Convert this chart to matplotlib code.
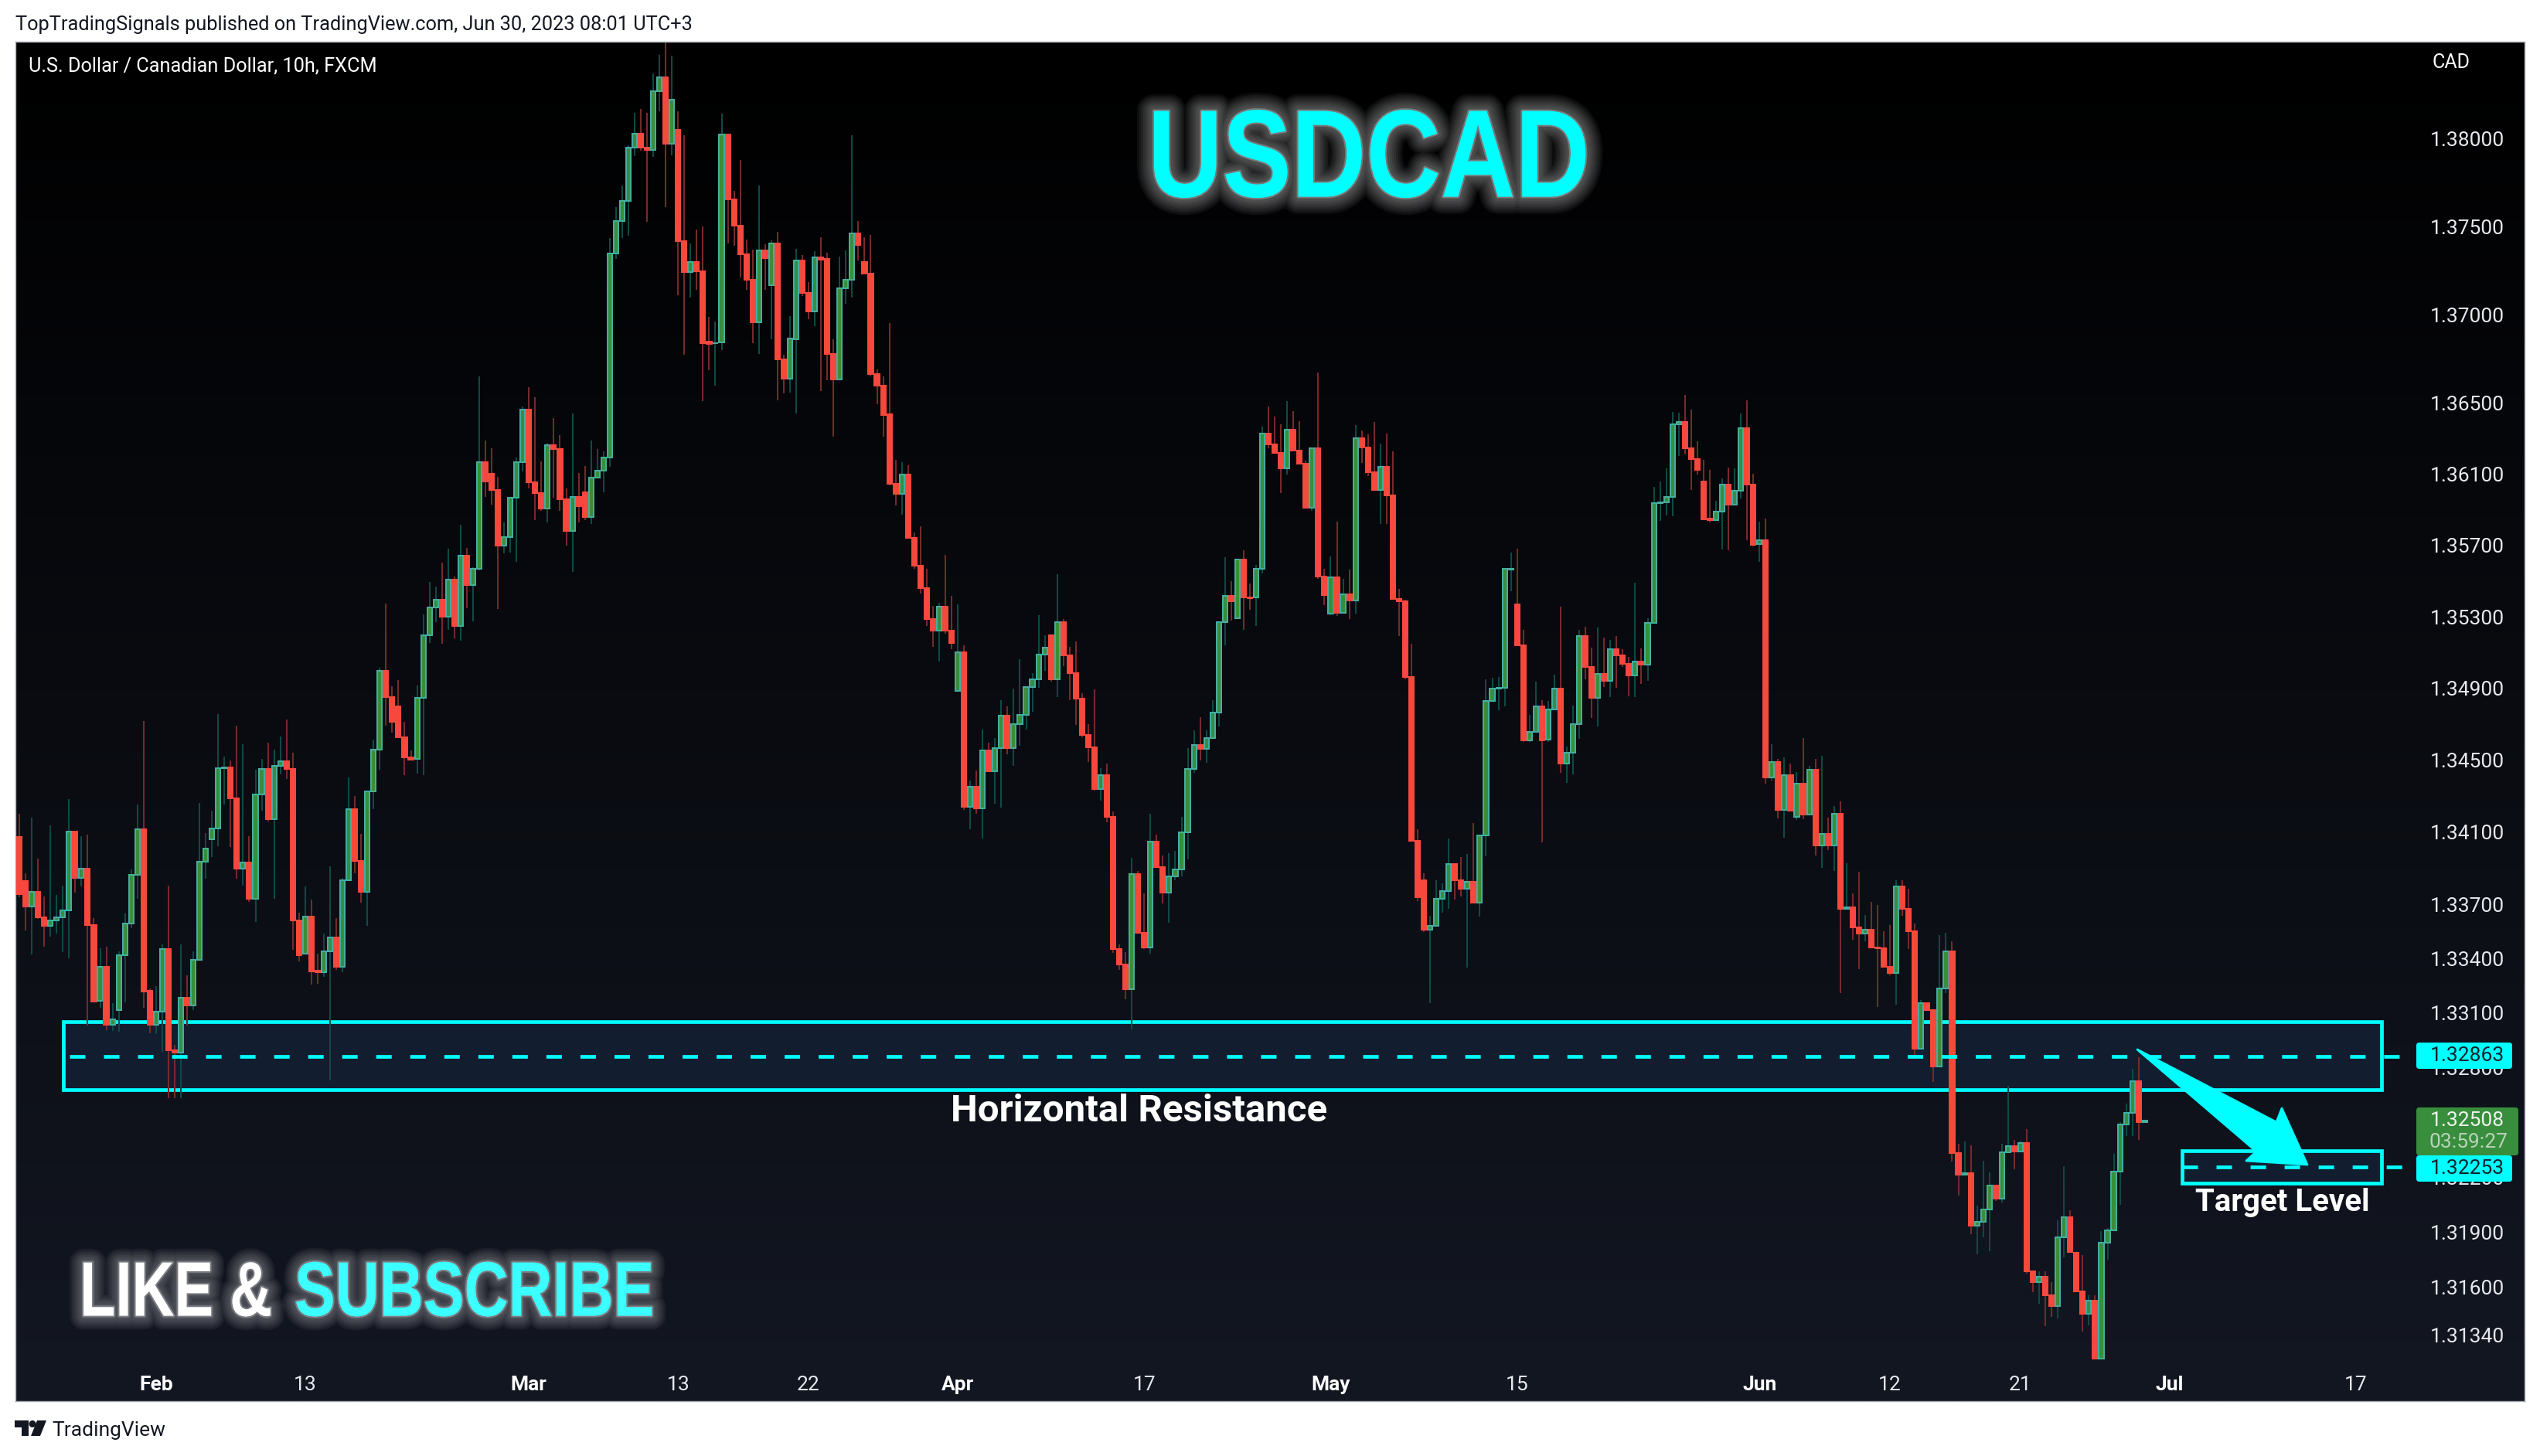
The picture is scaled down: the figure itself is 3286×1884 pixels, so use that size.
import numpy as np
import matplotlib
matplotlib.use('Agg')
import matplotlib.pyplot as plt
import matplotlib.patheffects as pe
from matplotlib.patches import Polygon, Rectangle, Circle, FancyBboxPatch
from matplotlib.ticker import NullLocator, NullFormatter
from matplotlib.transforms import Affine2D

W, H = 3286, 1884

# candles, in 1/1000 above 1.30000
opens = [
    40.75, 38.30, 36.86, 37.69, 36.27, 35.79, 36.10, 36.27, 36.66, 41.04,
    38.45, 38.98, 35.84, 31.66, 33.56, 30.36, 31.15, 34.19, 35.93, 38.63,
    41.16, 32.23, 30.36, 31.06, 34.51, 28.94, 28.81, 31.84, 31.43, 33.93,
    39.36, 40.59, 41.21, 44.55, 44.60, 42.88, 38.96, 39.32, 37.29, 43.09,
    44.51, 41.71, 44.67, 44.94, 44.51, 36.10, 34.26, 36.32, 33.33, 33.23,
    34.41, 35.16, 33.56, 38.33, 42.28, 39.41, 37.67, 43.27, 45.58, 49.97,
    48.53, 48.01, 46.26, 45.14, 45.05, 48.45, 51.98, 53.52, 53.96, 53.02,
    55.09, 52.50, 56.44, 54.78, 55.70, 61.66, 61.02, 60.13, 57.00, 57.48,
    59.66, 61.66, 64.66, 60.57, 59.96, 59.05, 62.66, 62.44, 59.61, 57.79,
    59.74, 60.00, 58.61, 60.83, 61.18, 61.96, 73.49, 75.33, 76.48, 79.52,
    80.31, 79.52, 79.38, 82.73, 83.53, 79.74, 80.53, 74.19, 72.43, 73.00,
    72.48, 68.47, 68.38, 68.43, 80.26, 76.56, 75.07, 73.44, 71.99, 69.58,
    73.66, 71.69, 74.06, 67.49, 66.40, 68.62, 73.09, 71.25, 70.20, 73.27,
    73.18, 67.79, 66.35, 71.51, 71.99, 74.63, 73.00, 72.34, 66.64, 65.98,
    64.38, 60.47, 59.90, 60.99, 57.42, 55.86, 54.60, 52.87, 52.22, 53.56,
    52.22, 48.86, 51.02, 42.41, 43.53, 42.33, 45.55, 44.38, 45.67, 47.48,
    45.67, 47.00, 47.52, 49.07, 49.50, 50.89, 51.97, 49.50, 52.70, 50.85,
    49.85, 48.43, 46.41, 45.72, 43.40, 44.17, 41.85, 34.53, 33.68, 32.32,
    38.67, 35.43, 34.62, 40.47, 39.06, 37.65, 38.54, 38.93, 40.99, 44.51,
    45.84, 45.63, 46.24, 47.66, 52.70, 54.17, 52.93, 56.20, 54.08, 54.08,
    55.69, 63.30, 62.69, 62.21, 61.34, 63.52, 62.34, 61.60, 59.12, 62.47,
    55.26, 53.17, 55.21, 53.22, 54.26, 53.91, 63.04, 62.51, 61.12, 60.12,
    61.42, 59.81, 54.00, 53.87, 49.63, 40.52, 38.33, 35.61, 35.81, 37.31,
    37.73, 39.23, 38.33, 37.86, 38.24, 37.09, 40.82, 48.30, 48.99, 49.03,
    55.65, 53.69, 51.41, 46.11, 46.58, 48.00, 46.15, 47.83, 48.99, 44.81,
    45.41, 47.00, 51.93, 50.20, 48.47, 49.81, 49.42, 51.19, 50.85, 50.37,
    49.72, 50.50, 50.33, 52.65, 59.38, 59.42, 59.73, 63.82, 63.95, 62.47,
    61.86, 60.60, 58.51, 58.42, 58.90, 60.42, 59.29, 60.07, 63.60, 60.42,
    57.07, 57.29, 44.04, 44.90, 42.24, 44.17, 41.85, 43.69, 41.98, 44.47,
    40.26, 40.90, 40.26, 42.02, 36.75, 36.84, 35.73, 35.39, 35.60, 34.62,
    34.58, 33.55, 33.21, 37.97, 36.75, 35.52, 29.04, 31.55, 31.17, 28.06,
    32.36, 34.40, 23.31, 22.13, 22.21, 19.34, 19.55, 20.23, 21.54, 20.82,
    23.35, 23.69, 23.39, 23.86, 16.84, 16.25, 16.55, 15.56, 14.97, 18.71,
    19.80, 17.87, 15.77, 14.55, 15.26, 12.10, 18.41, 19.08, 22.30, 24.87,
    25.51, 27.25, 25.00,
]
closes = [
    37.55, 36.86, 37.69, 36.26, 35.79, 36.10, 36.27, 36.66, 41.04, 38.45,
    38.98, 35.83, 31.65, 33.56, 30.36, 30.63, 34.19, 35.93, 38.63, 41.16,
    32.20, 30.36, 31.06, 34.51, 28.94, 28.81, 31.84, 31.43, 33.93, 39.36,
    40.09, 41.21, 44.55, 44.60, 42.87, 38.96, 39.32, 37.29, 43.09, 44.51,
    41.71, 44.67, 44.94, 44.50, 36.09, 34.20, 36.32, 33.30, 33.23, 34.41,
    35.16, 33.56, 38.33, 42.28, 39.39, 37.67, 43.27, 45.58, 49.97, 48.53,
    47.15, 46.26, 45.14, 45.04, 48.45, 51.98, 53.52, 53.96, 53.02, 55.09,
    52.50, 56.44, 54.78, 55.70, 61.66, 60.61, 60.13, 57.00, 57.48, 59.66,
    61.66, 64.66, 60.57, 59.96, 59.05, 62.66, 62.44, 59.61, 57.79, 59.74,
    59.18, 58.61, 60.83, 61.18, 61.96, 73.49, 75.33, 76.48, 79.52, 80.31,
    79.52, 79.38, 82.73, 83.53, 79.74, 82.25, 74.19, 72.43, 73.00, 72.48,
    68.38, 68.34, 68.40, 80.26, 76.56, 75.07, 73.44, 71.99, 69.58, 73.66,
    73.22, 74.06, 67.49, 66.40, 68.67, 73.09, 71.25, 70.20, 73.27, 73.14,
    67.79, 66.35, 71.51, 71.99, 74.63, 73.97, 72.34, 66.64, 65.98, 64.34,
    60.47, 59.90, 60.99, 57.42, 55.86, 54.60, 52.87, 52.22, 53.56, 52.22,
    51.53, 51.02, 42.41, 43.53, 42.33, 45.55, 44.38, 45.67, 47.48, 45.67,
    47.00, 47.52, 49.07, 49.50, 50.89, 51.28, 49.50, 52.70, 50.85, 49.85,
    48.43, 46.41, 45.72, 43.40, 44.17, 41.85, 34.53, 33.68, 32.32, 38.67,
    35.43, 34.62, 40.47, 39.06, 37.65, 38.54, 38.93, 40.99, 44.51, 45.84,
    45.63, 46.24, 47.66, 52.70, 54.17, 53.87, 56.20, 54.08, 54.04, 55.69,
    63.30, 62.69, 62.21, 61.34, 63.52, 62.34, 61.60, 59.12, 62.47, 55.26,
    54.21, 55.21, 53.22, 54.26, 53.91, 63.04, 62.51, 61.12, 60.12, 61.42,
    59.81, 54.00, 53.87, 49.63, 40.52, 37.39, 35.61, 35.81, 37.31, 37.73,
    39.23, 38.33, 37.86, 38.24, 37.09, 40.82, 48.30, 48.99, 49.03, 55.69,
    55.69, 51.41, 46.11, 46.58, 48.00, 46.11, 47.83, 48.99, 44.81, 45.41,
    47.00, 51.93, 50.20, 48.47, 49.81, 49.42, 51.19, 50.85, 50.37, 49.72,
    50.50, 50.33, 52.65, 59.38, 59.42, 59.73, 63.82, 63.95, 62.47, 61.86,
    61.25, 58.47, 58.42, 58.90, 60.42, 59.29, 60.07, 63.60, 60.42, 57.03,
    57.29, 44.04, 44.90, 42.24, 44.17, 42.19, 43.69, 41.98, 44.47, 40.26,
    40.90, 40.26, 42.02, 36.75, 36.84, 35.73, 35.39, 35.60, 34.62, 34.58,
    33.55, 33.21, 37.97, 36.75, 35.52, 29.04, 31.55, 31.17, 28.06, 32.36,
    34.40, 23.31, 22.13, 22.21, 19.34, 19.55, 20.23, 21.54, 20.82, 23.35,
    23.69, 23.39, 23.86, 16.84, 16.25, 16.55, 15.56, 14.97, 18.71, 19.80,
    17.91, 15.77, 14.55, 15.26, 12.10, 18.41, 19.08, 22.30, 24.87, 25.51,
    27.25, 25.00, 25.08,
]
highs = [
    42.00, 38.73, 41.82, 39.55, 37.45, 41.39, 37.53, 38.05, 42.85, 41.04,
    40.79, 40.84, 36.23, 34.55, 34.66, 31.55, 34.39, 36.49, 38.95, 42.55,
    47.18, 32.36, 32.47, 34.79, 38.05, 29.23, 34.79, 33.09, 34.40, 42.62,
    40.96, 42.17, 47.57, 45.21, 45.00, 46.93, 45.90, 40.79, 44.48, 45.08,
    45.98, 45.60, 46.33, 47.26, 45.43, 36.54, 38.00, 37.27, 34.26, 35.39,
    39.08, 36.25, 38.48, 44.05, 43.02, 40.88, 43.27, 46.15, 50.15, 53.73,
    49.13, 49.45, 47.15, 45.55, 49.16, 53.12, 54.93, 54.71, 56.02, 56.82,
    55.25, 58.16, 56.84, 55.76, 66.53, 62.90, 62.47, 60.86, 58.29, 59.66,
    61.93, 64.82, 65.91, 65.34, 61.72, 62.76, 64.17, 63.20, 60.21, 64.43,
    61.08, 61.47, 62.90, 62.43, 62.30, 74.36, 76.12, 77.36, 79.65, 81.50,
    81.72, 81.50, 83.75, 84.81, 85.56, 84.76, 81.59, 80.22, 74.06, 74.85,
    75.02, 69.89, 69.63, 81.45, 80.26, 77.05, 78.81, 74.28, 73.71, 77.36,
    74.01, 74.23, 74.72, 67.75, 69.93, 73.75, 73.40, 71.86, 73.62, 74.41,
    73.53, 68.62, 73.31, 73.66, 80.22, 75.33, 74.41, 74.54, 66.91, 66.52,
    69.54, 61.82, 61.69, 61.51, 57.73, 58.07, 55.69, 53.61, 53.78, 56.47,
    54.17, 53.69, 51.41, 43.87, 44.42, 46.71, 45.98, 46.24, 48.34, 48.00,
    48.99, 50.61, 49.07, 49.85, 53.09, 51.97, 51.97, 55.37, 52.87, 51.32,
    51.62, 48.73, 47.01, 48.95, 44.55, 44.81, 42.15, 34.79, 34.36, 39.57,
    38.84, 37.60, 42.02, 40.86, 39.70, 39.83, 39.96, 41.85, 45.67, 46.67,
    47.41, 46.67, 48.34, 52.70, 56.33, 55.00, 56.20, 56.73, 54.87, 55.90,
    63.69, 64.82, 64.25, 63.82, 65.13, 64.56, 63.99, 61.77, 62.47, 66.75,
    55.69, 56.38, 58.33, 55.13, 55.65, 63.78, 63.47, 63.26, 63.95, 62.73,
    63.30, 62.29, 54.56, 53.95, 51.49, 41.16, 38.71, 36.37, 38.33, 38.16,
    40.65, 39.23, 39.62, 39.79, 41.50, 40.82, 49.50, 49.59, 49.63, 55.69,
    56.60, 56.82, 52.27, 47.52, 49.37, 48.34, 48.30, 49.76, 53.56, 45.75,
    48.04, 52.27, 52.44, 51.28, 52.40, 51.84, 51.71, 51.93, 51.19, 50.76,
    54.91, 51.23, 52.91, 60.29, 60.60, 61.34, 64.52, 64.47, 65.47, 64.65,
    62.86, 61.82, 61.25, 59.51, 60.77, 61.38, 61.34, 64.43, 65.17, 61.03,
    58.33, 58.51, 45.89, 45.07, 45.16, 44.81, 44.34, 46.24, 44.68, 45.07,
    45.24, 41.80, 42.45, 42.71, 39.28, 37.60, 38.80, 36.41, 37.13, 36.96,
    35.52, 35.86, 38.33, 38.33, 37.86, 35.94, 31.72, 31.55, 31.17, 35.30,
    35.43, 34.96, 23.82, 23.95, 23.73, 20.44, 22.89, 22.25, 21.54, 23.82,
    27.00, 24.03, 23.99, 24.62, 16.84, 16.84, 16.84, 16.25, 19.63, 22.60,
    20.18, 17.87, 17.74, 15.56, 15.56, 19.04, 19.21, 23.27, 25.00, 26.02,
    27.93, 28.57, 25.08,
]
lows = [
    37.37, 35.57, 34.25, 36.19, 34.66, 35.23, 35.40, 34.37, 34.00, 37.66,
    37.97, 30.30, 31.60, 31.29, 30.06, 30.00, 29.96, 31.60, 35.69, 37.30,
    31.29, 29.88, 29.83, 28.87, 26.31, 26.31, 26.31, 30.30, 31.17, 33.93,
    38.40, 39.63, 40.23, 42.52, 40.16, 38.43, 38.02, 37.15, 36.04, 42.17,
    41.58, 37.29, 44.20, 43.94, 34.49, 33.83, 34.26, 32.55, 32.63, 32.99,
    27.30, 33.39, 33.23, 38.33, 38.73, 37.10, 35.79, 42.29, 44.47, 46.92,
    46.54, 46.26, 44.17, 45.01, 44.24, 44.17, 51.55, 52.68, 51.48, 52.27,
    51.81, 51.68, 53.48, 52.74, 55.61, 59.74, 59.27, 53.44, 56.57, 56.61,
    56.09, 61.17, 60.18, 58.44, 58.95, 58.27, 59.70, 58.95, 57.00, 55.53,
    58.31, 58.40, 58.22, 60.77, 60.00, 61.44, 73.18, 74.36, 74.50, 79.03,
    79.34, 75.28, 78.99, 81.59, 76.12, 79.07, 71.12, 67.75, 71.00, 71.43,
    65.13, 66.87, 66.00, 68.00, 74.06, 73.92, 72.13, 71.43, 68.38, 67.79,
    71.43, 68.62, 65.17, 65.57, 65.62, 64.43, 71.07, 69.76, 69.37, 65.69,
    66.31, 63.12, 66.35, 70.63, 70.98, 73.09, 72.34, 66.52, 64.95, 63.12,
    60.38, 59.25, 58.73, 57.42, 55.69, 54.30, 52.48, 51.32, 50.50, 52.05,
    51.19, 48.86, 42.24, 41.16, 42.02, 40.65, 44.38, 42.58, 42.37, 45.33,
    44.68, 45.80, 46.71, 47.70, 49.03, 49.98, 49.37, 48.52, 50.24, 48.34,
    46.97, 46.28, 44.90, 43.31, 42.75, 41.55, 34.31, 33.38, 31.77, 30.10,
    35.43, 34.53, 34.28, 39.06, 37.05, 35.98, 38.33, 38.54, 39.49, 44.30,
    44.98, 44.85, 46.24, 46.88, 51.41, 52.78, 52.87, 52.27, 53.39, 52.48,
    55.43, 62.47, 62.21, 59.94, 60.99, 62.34, 61.60, 59.12, 58.95, 55.13,
    53.65, 53.09, 53.04, 53.22, 52.87, 53.17, 61.64, 60.90, 60.12, 58.20,
    58.20, 54.00, 51.93, 49.50, 40.52, 37.18, 35.48, 31.55, 35.81, 36.54,
    36.75, 37.26, 37.43, 33.51, 37.05, 36.33, 39.66, 48.30, 47.79, 48.00,
    54.43, 51.41, 46.02, 46.02, 46.58, 40.43, 46.02, 47.83, 44.30, 43.74,
    44.21, 46.19, 49.50, 47.35, 46.88, 49.07, 48.52, 49.03, 50.20, 48.56,
    48.52, 49.24, 49.42, 52.65, 58.38, 58.68, 58.64, 62.03, 62.12, 60.12,
    60.99, 58.47, 58.29, 58.42, 56.77, 56.73, 59.29, 59.64, 57.29, 56.94,
    56.08, 43.69, 43.87, 41.76, 40.68, 42.15, 41.68, 41.72, 41.98, 39.70,
    39.02, 40.00, 38.84, 32.10, 36.75, 35.05, 33.42, 34.96, 34.58, 31.34,
    33.51, 33.08, 31.47, 36.37, 34.53, 28.61, 29.04, 31.17, 27.21, 28.06,
    32.10, 22.84, 21.00, 22.13, 18.87, 17.78, 18.71, 17.95, 20.69, 20.61,
    23.35, 22.42, 23.39, 16.72, 15.73, 15.10, 13.85, 14.37, 14.29, 17.61,
    17.91, 15.77, 13.58, 13.90, 12.10, 12.10, 17.49, 19.08, 20.48, 24.25,
    24.25, 24.03, 25.00,
]

price_ticks = [1.38, 1.375, 1.37, 1.365, 1.361, 1.357, 1.353, 1.349, 1.345, 1.341,
               1.337, 1.334, 1.331, 1.328, 1.325, 1.322, 1.319, 1.316, 1.3134]
date_pos = [22, 46, 82, 106, 127, 151, 181, 211, 241, 280, 301, 322, 346, 376]
date_labels = ['Feb', '13', 'Mar', '13', '22', 'Apr', '17', 'May', '15', 'Jun', '12', '21', 'Jul', '17']

resistance_zone = (1.32679, 1.33053)
resistance_level = 1.32863
target_zone = (1.32168, 1.32342)
target_level = 1.32253
last_price = 1.32508

CYAN = '#00ffff'
GREEN_FILL = '#388e3c'
GREEN_EDGE = '#45ad9f'
GREEN_WICK = '#0f4a45'
RED_FILL = '#f7483e'
RED_WICK = '#762a2b'
ZONE = '#131d30'
TXT = '#e6e8ee'

o = 1.3 + np.array(opens) / 1000
c = 1.3 + np.array(closes) / 1000
hi = 1.3 + np.array(highs) / 1000
lo = 1.3 + np.array(lows) / 1000
xs = np.arange(len(o))
up = c >= o

fig = plt.figure(figsize=(W / 100, H / 100), dpi=100, facecolor='white')
px = Affine2D().scale(1 / W, -1 / H).translate(0, 1) + fig.transFigure
rect = [20 / W, 1 - 1813 / H, (3266 - 20) / W, (1813 - 54) / H]

# background gradient
bg = fig.add_axes(rect, zorder=0)
grad = np.linspace(0, 1, 256)[:, None, None] * np.array([0x13, 0x17, 0x22]) / 255
bg.imshow(grad, aspect='auto', interpolation='bilinear')
bg.axis('off')

ax = fig.add_axes(rect, zorder=1)
ax.patch.set_visible(False)
ax.set_yscale('log')
ax.set_xlim(-0.62, 403.1)
ax.set_ylim(1.3098, 1.38557)
ax.set_axisbelow(True)
for s in ax.spines.values():
    s.set_color('#a3a6af')
    s.set_linewidth(1.0)

# zones, under the candles
for (low, high), x0 in ((resistance_zone, 7.09), (target_zone, 348.0)):
    ax.add_patch(Rectangle((x0, low), 380.1 - x0, high - low, facecolor=ZONE,
                           edgecolor=CYAN, linewidth=3.4, zorder=1))

ax.vlines(xs, lo, hi, colors=np.where(up, GREEN_WICK, RED_WICK), linewidth=1.45, zorder=2)
ax.bar(xs, np.abs(c - o), bottom=np.minimum(o, c), width=0.76,
       color=np.where(up, GREEN_FILL, RED_FILL),
       edgecolor=np.where(up, GREEN_EDGE, RED_FILL), linewidth=1.45, zorder=3)

# dashed levels, over the candles
DASH = (14.4 / 3.4, 17.3 / 3.4)
ax.plot([8.1, 384.5], [resistance_level] * 2, color=CYAN, lw=3.4, dashes=DASH, zorder=4)
ax.plot([348.0, 383.5], [target_level] * 2, color=CYAN, lw=3.4, dashes=DASH, zorder=4)

# axes labels sit inside the frame
ax.yaxis.tick_right()
ax.yaxis.set_minor_locator(NullLocator())
ax.yaxis.set_minor_formatter(NullFormatter())
ax.set_yticks(price_ticks, ['%.5f' % p for p in price_ticks])
ax.tick_params(axis='y', length=0, pad=-88, labelcolor=TXT, labelsize=19)
for t in ax.get_yticklabels():
    t.set_fontfamily('Roboto')
ax.set_xticks(date_pos, date_labels)
ax.tick_params(axis='x', length=0, pad=-24, labelcolor=TXT, labelsize=19)
for t in ax.get_xticklabels():
    t.set_fontfamily('Roboto')
    if t.get_text().isalpha():
        t.set_fontweight('bold')
        t.set_color('white')

# arrow tool drawing
ax.add_patch(Polygon([(2765, 1358), (2945, 1452), (2952, 1434), (2985, 1507),
                      (2906, 1502), (2919, 1490)], closed=True, facecolor=CYAN,
                     edgecolor=CYAN, linewidth=2, joinstyle='round', transform=px, zorder=5))

# price tags on the scale
for y0, y1, x1, col in ((1349, 1383, 3250, CYAN), (1433, 1495, 3258, GREEN_FILL), (1495, 1529, 3250, CYAN)):
    ax.add_patch(FancyBboxPatch((3130, y0 + 4), x1 - 3134, y1 - y0 - 8,
                                boxstyle='round,pad=4,rounding_size=4', facecolor=col,
                                edgecolor='none', transform=px, zorder=6, clip_on=False))
font = dict(family='Roboto', transform=px, va='center', zorder=7, fontsize=19)
fig.text(3144, 1366, '%.5f' % resistance_level, color='#10222a', ha='left', **font)
fig.text(3144, 1512, '%.5f' % target_level, color='#10222a', ha='left', **font)
fig.text(3144, 1450, '%.5f' % last_price, color='#f0f4f0', ha='left', **font)
fig.text(3142, 1478, '03:59:27', color='#b9d3ba', ha='left', **font)


class Squeezed(pe.AbstractPathEffect):
    # narrows the glyphs around x0 (the installed fonts have no condensed bold)
    def __init__(self, sx, x0, effects):
        super().__init__()
        self.sx = sx
        self.x0 = x0
        self.effects = effects

    def draw_path(self, renderer, gc, tpath, affine, rgbFace=None):
        squeeze = Affine2D().translate(-self.x0, 0).scale(self.sx, 1).translate(self.x0, 0)
        for e in self.effects:
            e.draw_path(renderer, gc, tpath, affine + squeeze, rgbFace)


def glow(sx, x0, widths=(32, 28, 24, 20, 16, 12, 8), alpha=0.05):
    fx = [pe.Stroke(linewidth=w, foreground='white', alpha=alpha) for w in widths]
    fx.append(pe.Stroke(linewidth=3, foreground='white', alpha=0.25))
    fx.append(pe.Normal())
    return [Squeezed(sx, x0, fx)]


fig.text(1771, 196, 'USDCAD', transform=px, color=CYAN, family='Liberation Sans', weight='bold', fontsize=116,
         ha='center', va='center_baseline', path_effects=glow(0.83, 1771), zorder=8)
fig.text(103, 1666, 'LIKE &', transform=px, color='white', family='Liberation Sans', weight='bold', fontsize=72,
         ha='left', va='center_baseline', path_effects=glow(0.76, 103, (26, 22, 18, 14, 10, 6)), zorder=8)
fig.text(381, 1666, 'SUBSCRIBE', transform=px, color='#3cffff', family='Liberation Sans', weight='bold', fontsize=72,
         ha='left', va='center_baseline', path_effects=glow(0.79, 381, (26, 22, 18, 14, 10, 6)), zorder=8)
fig.text(1474, 1438, 'Horizontal Resistance', transform=px, color='white', family='Roboto', weight='bold',
         fontsize=35.5, ha='center', va='center', zorder=8)
fig.text(2953, 1556, 'Target Level', transform=px, color='white', family='Roboto', weight='bold',
         fontsize=29, ha='center', va='center', zorder=8)

fig.text(37, 86, 'U.S. Dollar / Canadian Dollar, 10h, FXCM', transform=px, color='white',
         family='Roboto', fontsize=18.2, ha='left', va='center', zorder=8)
fig.text(3147, 81, 'CAD', transform=px, color='white', family='Roboto', fontsize=18,
         ha='left', va='center', zorder=8)
fig.text(20, 32, 'TopTradingSignals published on TradingView.com, Jun 30, 2023 08:01 UTC+3', transform=px,
         color='#131722', family='Roboto', fontsize=18.3, ha='left', va='center')

# footer logo
LOGO = '#131722'
fig.add_artist(Polygon([(19, 1838), (37, 1838), (37, 1858), (28, 1858), (28, 1847), (19, 1847)],
                       closed=True, facecolor=LOGO, edgecolor='none', transform=px))
fig.add_artist(Circle((42, 1842.5), 4.5, facecolor=LOGO, edgecolor='none', transform=px))
fig.add_artist(Polygon([(48, 1838), (60, 1838), (52, 1858), (40, 1858)],
                       closed=True, facecolor=LOGO, edgecolor='none', transform=px))
fig.text(67, 1851, 'TradingView', transform=px, color=LOGO, family='Roboto', fontsize=19,
         ha='left', va='center')

fig.savefig('out.png', dpi=100, facecolor='white')
